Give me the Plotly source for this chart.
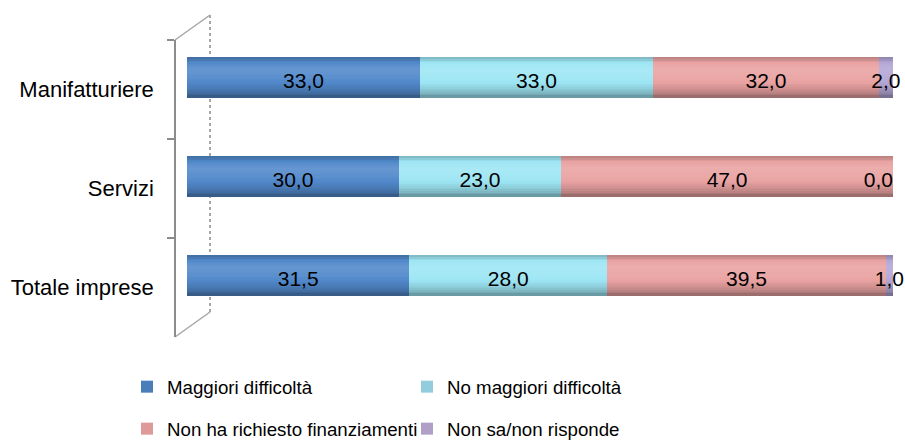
import numpy as np
import plotly.graph_objects as go

# ---- data -------------------------------------------------------------
categories = ["Manifatturiere", "Servizi", "Totale imprese"]
series_names = [
    "Maggiori difficoltà",
    "No maggiori difficoltà",
    "Non ha richiesto finanziamenti",
    "Non sa/non risponde",
]
maggiori_difficolta = [33.0, 30.0, 31.5]
no_maggiori_difficolta = [33.0, 23.0, 28.0]
non_ha_richiesto = [32.0, 47.0, 39.5]
non_sa_non_risponde = [2.0, 0.0, 1.0]

series_values = [maggiori_difficolta, no_maggiori_difficolta,
                 non_ha_richiesto, non_sa_non_risponde]

# ---- styling ----------------------------------------------------------
W, H = 905, 441
bar_colors = ["#5289CB", "#9EE6F4", "#E9A3A2", "#B4A7D6"]
legend_colors = ["#4A7EBB", "#93CDDD", "#DD9A99", "#B0A0C8"]
FONT = "Liberation Sans, Arial, sans-serif"

# vertical light profile of a cylinder (top -> bottom); >0 lighten, <0 darken
profile_t = [0.0, 0.12, 0.3, 0.5, 0.7, 0.88, 1.0]
profile_f = [-0.22, -0.02, 0.12, 0.06, -0.04, -0.18, -0.36]
N_STRIPES = 24
BAR_W = 0.40


def shade(hex_color, f):
    r, g, b = (int(hex_color[i:i + 2], 16) for i in (1, 3, 5))
    if f >= 0:
        r, g, b = (c + (255 - c) * f for c in (r, g, b))
    else:
        r, g, b = (c * (1 + f) for c in (r, g, b))
    return "#%02x%02x%02x" % tuple(int(round(min(255, max(0, c)))) for c in (r, g, b))


def px_x(p):
    return p / W


def px_y(p):
    return 1 - p / H


fig = go.Figure()

vals = np.array(series_values)
starts = np.vstack([np.zeros(len(categories)), np.cumsum(vals, axis=0)[:-1]])

# legend entries (two rows of two); they also carry the category axis
for s, name in enumerate(series_names):
    fig.add_trace(go.Bar(
        y=categories, x=[None] * len(categories), orientation="h", name=name,
        marker=dict(color=legend_colors[s], line=dict(width=0)),
        legend="legend" if s < 2 else "legend2", hoverinfo="skip",
    ))

# cylinder-shaded stacked bars, drawn as thin horizontal stripes
stripe = BAR_W / N_STRIPES
t_centres = (np.arange(N_STRIPES) + 0.5) / N_STRIPES
stripe_f = np.interp(t_centres, profile_t, profile_f)
for s, name in enumerate(series_names):
    for k, f in enumerate(stripe_f):
        fig.add_trace(go.Bar(
            y=categories, x=vals[s], base=starts[s], orientation="h",
            width=stripe * 1.6, offset=-BAR_W / 2 + k * stripe,
            marker=dict(color=shade(bar_colors[s], f), line=dict(width=0)),
            yaxis="y2", showlegend=False, hoverinfo="skip",
        ))

# value labels at the middle of each segment; an empty segment at the
# far right gets its label tucked to the left so it stays on the page
for s in range(len(series_names)):
    mids = starts[s] + vals[s] / 2
    labels = [f"{v:.1f}".replace(".", ",") for v in vals[s]]
    positions = ["middle left" if (v == 0 and m >= 100) else "middle center"
                 for v, m in zip(vals[s], mids)]
    fig.add_trace(go.Scatter(
        x=mids, y=categories, mode="text", text=labels,
        textposition=positions,
        textfont=dict(family=FONT, size=21, color="#000000"),
        yaxis="y3", showlegend=False, hoverinfo="skip", cliponaxis=False,
    ))

y_domain = [px_y(337), px_y(40)]
cat_axis = dict(type="category", categoryorder="array", categoryarray=categories)

legend_common = dict(
    orientation="h", xanchor="left", yanchor="middle",
    entrywidth=235, entrywidthmode="pixels",
    font=dict(family=FONT, size=18.7, color="#000000"),
    bgcolor="rgba(0,0,0,0)", itemclick=False, itemdoubleclick=False,
)

grey = "#8C8C8C"
fig.update_layout(
    width=W, height=H,
    margin=dict(l=0, r=0, t=0, b=0, autoexpand=False),
    paper_bgcolor="white", plot_bgcolor="rgba(0,0,0,0)",
    barmode="overlay", bargap=0,
    font=dict(family=FONT, size=21, color="#000000"),
    xaxis=dict(domain=[px_x(187), px_x(893)], range=[0, 100], visible=False,
               fixedrange=True),
    yaxis=dict(**cat_axis, range=[2.5, -0.5], domain=y_domain,
               anchor="free", position=px_x(175),
               showline=True, linecolor=grey, linewidth=1.5,
               ticks="outside", tickson="boundaries", ticklen=7,
               tickcolor=grey, tickwidth=2, showgrid=False, zeroline=False,
               tickfont=dict(family=FONT, size=22, color="#000000"),
               ticklabelstandoff=16, fixedrange=True),
    yaxis2=dict(**cat_axis, range=[2.5 + 0.126, -0.5 + 0.126],
                overlaying="y", visible=False, fixedrange=True),
    yaxis3=dict(**cat_axis, range=[2.5 + 0.066, -0.5 + 0.066],
                overlaying="y", visible=False, fixedrange=True),
    legend=dict(**legend_common, x=px_x(127), y=px_y(387)),
    legend2=dict(**legend_common, x=px_x(127), y=px_y(429)),
    shapes=[
        # back wall edge
        dict(type="line", xref="paper", yref="paper", layer="below",
             x0=px_x(210), x1=px_x(210), y0=px_y(15), y1=px_y(312),
             line=dict(color="#A6A6A6", width=2, dash="dot")),
        # floor / ceiling depth edges
        dict(type="line", xref="paper", yref="paper", layer="below",
             x0=px_x(175), x1=px_x(210), y0=px_y(40), y1=px_y(15),
             line=dict(color="#A6A6A6", width=1.5)),
        dict(type="line", xref="paper", yref="paper", layer="below",
             x0=px_x(175), x1=px_x(210), y0=px_y(337), y1=px_y(312),
             line=dict(color="#A6A6A6", width=1.5)),
    ],
)

fig.write_html("out.html")
